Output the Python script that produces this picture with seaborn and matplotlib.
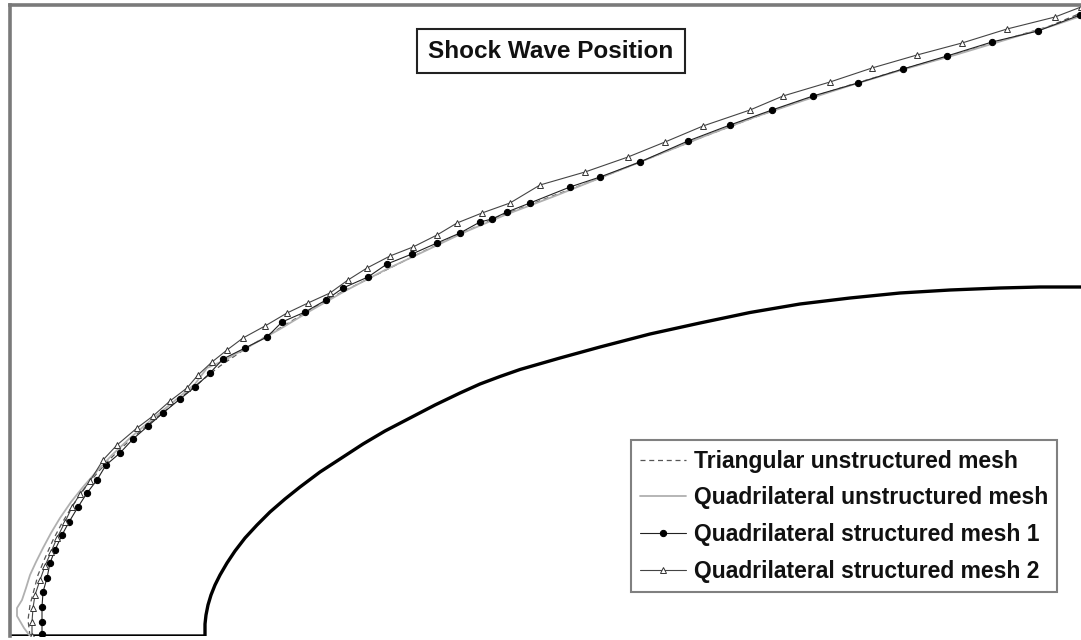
import matplotlib
matplotlib.use("Agg")
import matplotlib.pyplot as plt
import seaborn as sns
import pandas as pd

# Body contour (axis of symmetry along y = 0, blunt nose at x = 1.95)
body_x = [0.00, 1.95, 1.95, 1.96, 1.98, 2.01, 2.05, 2.10, 2.17, 2.25, 2.35, 2.47,
          2.60, 2.75, 2.90, 3.10, 3.30, 3.53, 3.75, 4.00, 4.25, 4.50, 4.70, 4.90,
          5.10, 5.50, 5.90, 6.40, 6.90, 7.40, 7.90, 8.40, 8.90, 9.40, 9.90, 10.30,
          10.71]
body_y = [0.00, 0.00, 0.12, 0.21, 0.31, 0.41, 0.51, 0.61, 0.73, 0.85, 0.98, 1.11,
          1.24, 1.37, 1.49, 1.64, 1.77, 1.92, 2.05, 2.18, 2.31, 2.43, 2.52, 2.595,
          2.665, 2.78, 2.89, 3.02, 3.13, 3.235, 3.32, 3.38, 3.43, 3.46, 3.48, 3.49,
          3.49]

# Shock position: triangular unstructured mesh
tri_x = [0.20, 0.18, 0.20, 0.24, 0.28, 0.35, 0.43, 0.52, 0.63, 0.75, 0.88, 1.03, 1.20,
         1.40, 1.62, 1.85, 2.10, 2.35, 2.65, 2.95, 3.30, 3.70, 4.10, 4.50, 4.90, 5.40,
         5.90, 6.40, 6.90, 7.40, 7.90, 8.40, 8.90, 9.40, 9.90, 10.40, 10.71]
tri_y = [0.00, 0.16, 0.31, 0.46, 0.61, 0.78, 0.96, 1.13, 1.31, 1.48, 1.64, 1.80, 1.96,
         2.13, 2.31, 2.50, 2.70, 2.87, 3.05, 3.23, 3.43, 3.63, 3.83, 4.02, 4.20, 4.39,
         4.58, 4.78, 4.98, 5.17, 5.35, 5.51, 5.66, 5.80, 5.95, 6.10, 6.23]

# Shock position: quadrilateral unstructured mesh
quad_x = [0.20, 0.14, 0.07, 0.07, 0.12, 0.16, 0.20, 0.26, 0.33, 0.41, 0.50, 0.61, 0.73,
          0.87, 1.02, 1.20, 1.40, 1.62, 1.85, 1.97, 2.15, 2.40, 2.70, 3.00, 3.35, 3.75,
          4.15, 4.55, 4.95, 5.45, 5.95, 6.45, 6.95, 7.45, 7.95, 8.45, 8.95, 9.45, 9.95,
          10.45, 10.71]
quad_y = [0.00, 0.08, 0.20, 0.28, 0.36, 0.48, 0.61, 0.74, 0.88, 1.03, 1.18, 1.34, 1.49,
          1.65, 1.81, 1.98, 2.15, 2.33, 2.52, 2.68, 2.76, 2.90, 3.07, 3.25, 3.45, 3.66,
          3.85, 4.04, 4.21, 4.40, 4.60, 4.80, 5.00, 5.19, 5.36, 5.52, 5.67, 5.81, 5.96,
          6.11, 6.20]

# Shock position: quadrilateral structured mesh 1
s1_x = [0.32, 0.32, 0.32, 0.33, 0.37, 0.40, 0.45, 0.52, 0.59, 0.68, 0.77, 0.87, 0.96,
        1.10, 1.23, 1.38, 1.53, 1.70, 1.85, 2.00, 2.13, 2.35, 2.57, 2.72, 2.95, 3.16,
        3.33, 3.58, 3.77, 4.02, 4.27, 4.50, 4.70, 4.82, 4.97, 5.20, 5.60, 5.90, 6.30,
        6.78, 7.20, 7.62, 8.03, 8.48, 8.93, 9.37, 9.82, 10.28, 10.70]
s1_y = [0.02, 0.14, 0.29, 0.44, 0.58, 0.73, 0.86, 1.01, 1.14, 1.29, 1.43, 1.56, 1.71,
        1.83, 1.97, 2.10, 2.23, 2.37, 2.49, 2.63, 2.77, 2.88, 2.99, 3.14, 3.24, 3.36,
        3.48, 3.59, 3.72, 3.82, 3.93, 4.03, 4.14, 4.17, 4.24, 4.33, 4.49, 4.59, 4.74,
        4.95, 5.11, 5.26, 5.40, 5.53, 5.67, 5.80, 5.94, 6.05, 6.21]

# Shock position: quadrilateral structured mesh 2
s2_x = [0.22, 0.22, 0.23, 0.25, 0.30, 0.35, 0.41, 0.47, 0.55, 0.62, 0.70, 0.80, 0.93,
        1.07, 1.27, 1.43, 1.60, 1.77, 1.88, 2.02, 2.17, 2.33, 2.55, 2.77, 2.98, 3.20,
        3.38, 3.57, 3.80, 4.03, 4.27, 4.47, 4.72, 5.00, 5.30, 5.75, 6.18, 6.55, 6.93,
        7.40, 7.73, 8.20, 8.62, 9.07, 9.52, 9.97, 10.45, 10.71]
s2_y = [0.00, 0.14, 0.28, 0.41, 0.56, 0.70, 0.84, 0.98, 1.14, 1.29, 1.42, 1.55, 1.76,
        1.91, 2.08, 2.20, 2.35, 2.48, 2.61, 2.74, 2.86, 2.98, 3.10, 3.23, 3.33, 3.43,
        3.56, 3.68, 3.80, 3.89, 4.01, 4.13, 4.23, 4.33, 4.51, 4.64, 4.79, 4.94, 5.10,
        5.26, 5.40, 5.54, 5.68, 5.81, 5.93, 6.07, 6.19, 6.29]

labels = ["Triangular unstructured mesh",
          "Quadrilateral unstructured mesh",
          "Quadrilateral structured mesh 1",
          "Quadrilateral structured mesh 2"]
title_text = "Shock Wave Position"

sns.set_style("white")
plt.rcParams["font.family"] = ["Liberation Sans", "DejaVu Sans"]

W, H = 1081, 640
fig = plt.figure(figsize=(W / 100, H / 100), dpi=100)
ax = fig.add_axes([10 / W, 4 / H, 1071 / W, 631 / H])

def series(x, y):
    return pd.DataFrame({"x": x, "y": y})

# body outline
sns.lineplot(data=series(body_x, body_y), x="x", y="y", sort=False, estimator=None,
             color="black", linewidth=2.4, ax=ax, legend=False,
             solid_joinstyle="round")

# shock positions
sns.lineplot(data=series(tri_x, tri_y), x="x", y="y", sort=False, estimator=None,
             color="#555555", linewidth=0.9, dashes=False, linestyle=(0, (4, 3)),
             ax=ax, label=labels[0])
sns.lineplot(data=series(quad_x, quad_y), x="x", y="y", sort=False, estimator=None,
             color="#b0b0b0", linewidth=1.3, ax=ax, label=labels[1])
sns.lineplot(data=series(s1_x, s1_y), x="x", y="y", sort=False, estimator=None,
             color="#222222", linewidth=0.8, marker="o", markersize=4.5,
             markerfacecolor="black", markeredgecolor="black", ax=ax, label=labels[2])
sns.lineplot(data=series(s2_x, s2_y), x="x", y="y", sort=False, estimator=None,
             color="#444444", linewidth=0.8, marker="^", markersize=4.8,
             markerfacecolor="white", markeredgecolor="#333333", markeredgewidth=0.7,
             ax=ax, label=labels[3])

ax.set_xlim(0, 10.71)
ax.set_ylim(0, 6.31)
ax.set_xlabel("")
ax.set_ylabel("")
ax.set_xticks([])
ax.set_yticks([])
for side in ("right", "bottom"):
    ax.spines[side].set_visible(False)
for side in ("left", "top"):
    ax.spines[side].set_visible(True)
    ax.spines[side].set_color("#7a7a7a")
    ax.spines[side].set_linewidth(2.6)

leg = ax.legend(loc="lower right", bbox_to_anchor=(1057 / W, 1 - 592 / H),
                bbox_transform=fig.transFigure, frameon=True, fancybox=False,
                framealpha=1, edgecolor="#808080", handlelength=2.0,
                handletextpad=0.35, labelspacing=0.6, borderpad=0.4,
                borderaxespad=0.0, prop={"size": 16.5, "weight": "bold"})
leg.get_frame().set_linewidth(1.5)
for t in leg.get_texts():
    t.set_color("#111111")

fig.text(551 / W, 1 - 51 / H, title_text, ha="center", va="center",
         fontsize=17.5, fontweight="bold", color="#111111",
         bbox=dict(boxstyle="square,pad=0.45", facecolor="white",
                   edgecolor="#222222", linewidth=1.5))

fig.savefig("out.png", dpi=100)
